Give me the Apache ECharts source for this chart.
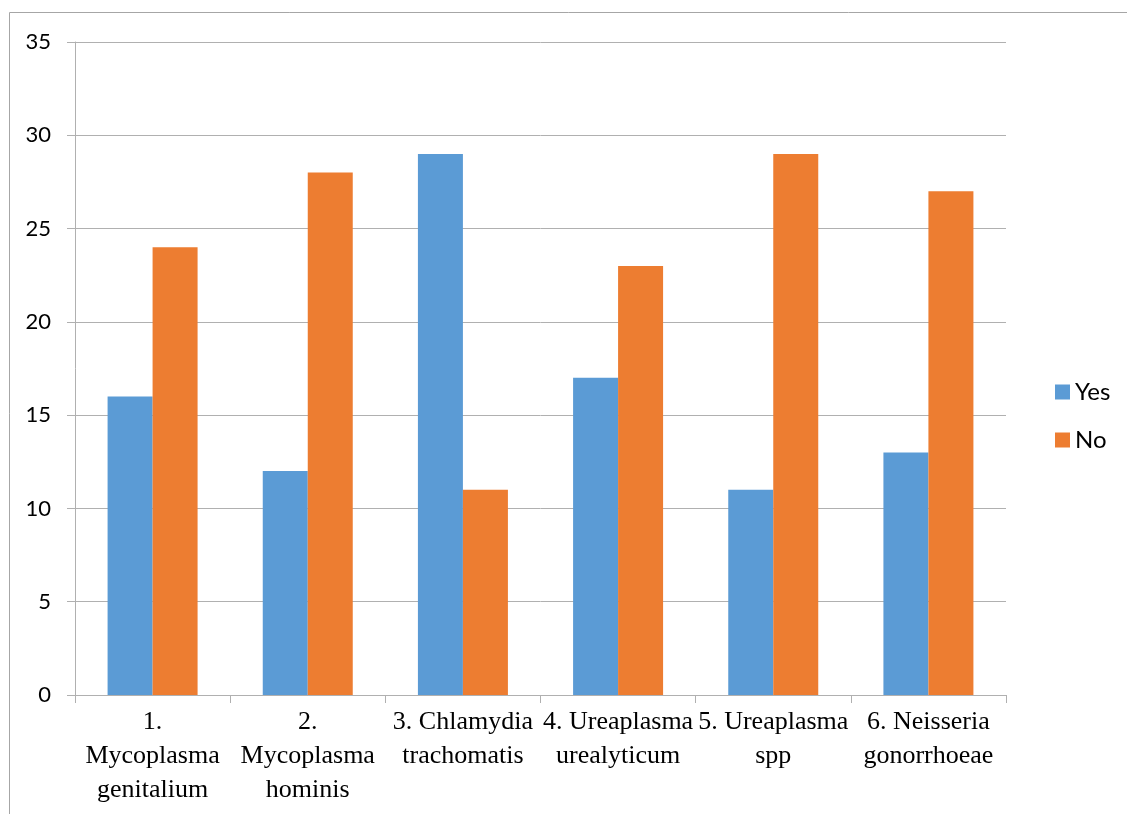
<!DOCTYPE html>
<html>
<head>
<meta charset="utf-8">
<script src="https://cdn.jsdelivr.net/npm/echarts@6/dist/echarts.min.js"></script>
<style>html,body{margin:0;padding:0;background:#fff}#c{width:1127px;height:814px}</style>
</head>
<body>
<div id="c"></div>
<script>
const categories = ["1.\nMycoplasma\ngenitalium", "2.\nMycoplasma\nhominis", "3. Chlamydia\ntrachomatis", "4. Ureaplasma\nurealyticum", "5. Ureaplasma\nspp", "6. Neisseria\ngonorrhoeae"];
const yesValues = [16, 12, 29, 17, 11, 13];
const noValues = [24, 28, 11, 23, 29, 27];
const seriesNames = ["Yes", "No"];

const chart = echarts.init(document.getElementById('c'));
chart.setOption({
  animation: false,
  graphic: [{type: 'rect', left: 7, top: 10, shape: {width: 1300, height: 1000}, style: {fill: 'none', stroke: '#a6a6a6', lineWidth: 1}}],
  grid: {left: 75, right: 121, top: 42, bottom: 119},
  legend: {
    orient: 'vertical', left: 1050, top: 375, itemWidth: 15, itemHeight: 15, itemGap: 24,
    icon: 'rect',
    textStyle: {fontFamily: 'Lato, "Liberation Sans", sans-serif', fontSize: 24, lineHeight: 24, color: '#000'},
    data: seriesNames
  },
  xAxis: {
    type: 'category', data: categories,
    axisLine: {lineStyle: {color: '#b0b0b0', width: 1}},
    axisTick: {show: true, length: 8, lineStyle: {color: '#b0b0b0'}},
    axisLabel: {interval: 0, margin: 10, fontFamily: '"Liberation Serif", serif', fontSize: 26, color: '#000', lineHeight: 34}
  },
  yAxis: {
    type: 'value', min: 0, max: 35, interval: 5,
    axisLine: {show: true, lineStyle: {color: '#b0b0b0'}},
    axisTick: {show: true, length: 8, lineStyle: {color: '#b0b0b0'}},
    splitLine: {lineStyle: {color: '#b0b0b0'}},
    axisLabel: {margin: 24, fontFamily: 'Lato, "Liberation Sans", sans-serif', fontSize: 22, color: '#000'}
  },
  series: [
    {name: seriesNames[0], type: 'bar', data: yesValues, barWidth: 45, barGap: '0%', itemStyle: {color: '#5B9BD5'}},
    {name: seriesNames[1], type: 'bar', data: noValues, barWidth: 45, barGap: '0%', itemStyle: {color: '#ED7D31'}}
  ]
});
</script>
</body>
</html>
